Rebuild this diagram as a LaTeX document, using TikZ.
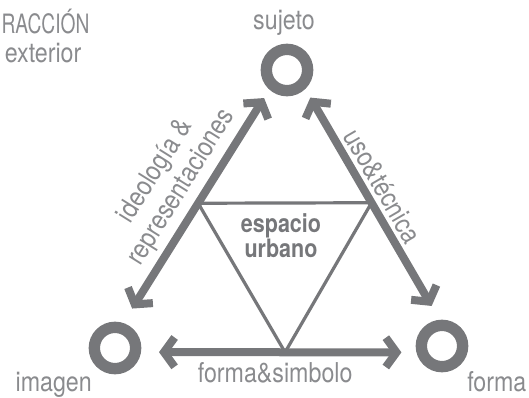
\documentclass[tikz,border=0pt]{standalone}
\usepackage{fontspec}
\setmainfont{TeX Gyre Heros}[FakeStretch=0.85]
\newfontfamily\narrowfont{TeX Gyre Heros}[FakeStretch=0.72]
\usetikzlibrary{arrows.meta}
\definecolor{linegray}{HTML}{76777A}
\definecolor{textgray}{HTML}{8A8B8E}

\begin{document}
\begin{tikzpicture}[
    x=0.75pt, y=-0.75pt,
    ring/.style={circle, draw=linegray, line width=8.5pt, minimum size=31pt, inner sep=0pt},
    twoway/.style={draw=linegray, line width=6pt,
        {Straight Barb[length=8pt,width=22pt]}-{Straight Barb[length=8pt,width=22pt]}},
    tri/.style={draw=linegray, line width=2.4pt},
    lbl/.style={text=textgray, font=\fontsize{20.5}{23}\selectfont, inner sep=1pt},
    core/.style={text=linegray, font=\fontsize{19}{15}\selectfont\bfseries, align=center}
]
\useasboundingbox (0,0) rectangle (529,397);

% the three poles
\node[ring] (sujeto) at (287,70) {};
\node[ring] (imagen) at (115,348) {};
\node[ring] (forma) at (442,346) {};

\node[lbl, anchor=base] (sujetolbl) at (284,29) {sujeto};
\node[lbl, anchor=base west] (imagenlbl) at (14,391) {imagen};
\node[lbl, anchor=base east] (formalbl) at (528,391) {forma};

% corner text
\node[lbl, anchor=base east, font=\fontsize{20}{21}\narrowfont] (interaccion) at (91,33) {RACCIÓN};
\node[lbl, anchor=base east] (exterior) at (83,62) {exterior};

% relations
\draw[twoway, shorten <=12.75pt, shorten >=7.5pt] (imagen.72)
    -- coordinate[pos=0.513] (triL)
    node[lbl, sloped, above=3pt, pos=0.53, align=center] (ideologia) {ideología \&\\representaciones}
    (sujeto.228);
\draw[twoway, shorten <=7.5pt, shorten >=12pt] (sujeto.314)
    -- coordinate[pos=0.493] (triR)
    node[lbl, sloped, above=2pt, pos=0.46] (uso) {uso\&técnica}
    (forma.95);
\draw[twoway, shorten <=13.5pt, shorten >=11.25pt] (imagen.-9)
    -- coordinate[pos=0.523] (triB)
    node[lbl, below=4pt, pos=0.487] (simbolo) {forma\&simbolo}
    (forma.194);

% urban space
\draw[tri] (triL) -- (triR) -- (triB) -- cycle;
\node[core] (espacio) at (281,236) {espacio\\urbano};

\end{tikzpicture}
\end{document}
